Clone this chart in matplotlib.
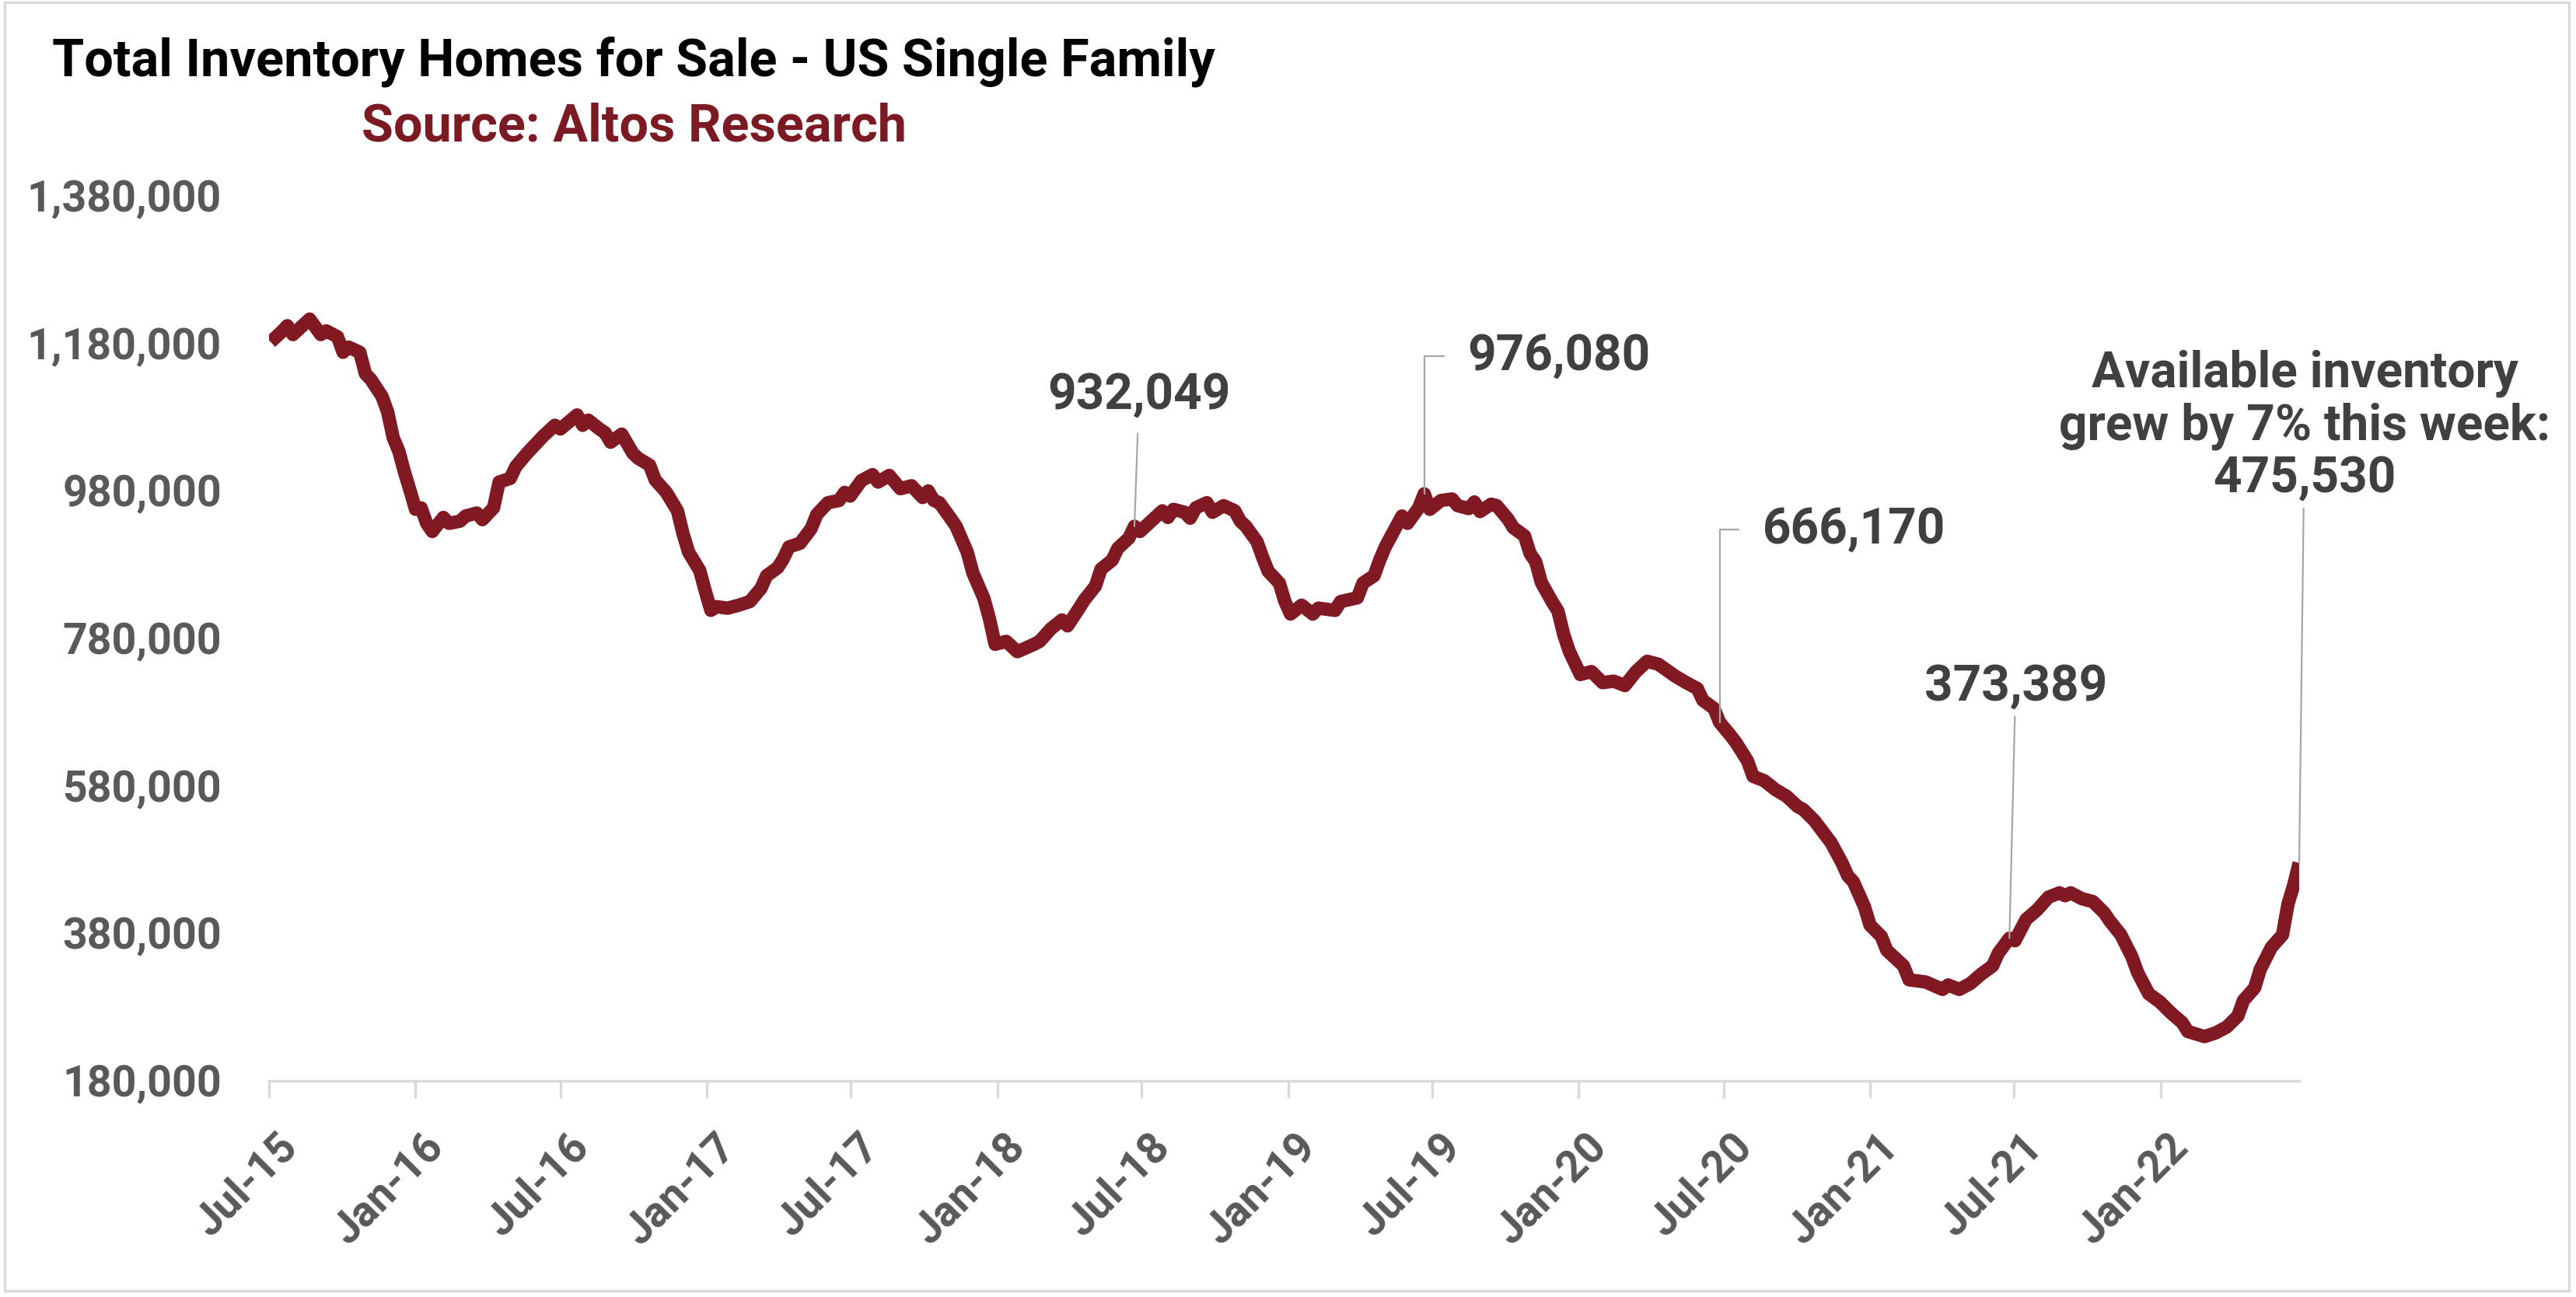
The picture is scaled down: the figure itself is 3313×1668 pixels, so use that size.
import matplotlib
matplotlib.use("Agg")
import matplotlib.pyplot as plt
import matplotlib.transforms as mtransforms
from matplotlib.patches import Rectangle
from matplotlib.ticker import FuncFormatter
import pandas as pd
import numpy as np

# ---------------- data ----------------
start_date = "2015-07-03"   # first weekly observation
week = [0, 2, 3, 4, 5, 7, 9, 10, 12, 13, 14, 16, 17, 18, 20, 21, 22, 23, 24, 25, 26, 27, 28, 29, 31, 32,
        34, 35, 37, 38, 40, 41, 43, 44, 46, 47, 49, 51, 52, 55, 56, 57, 59, 60, 61, 63, 65, 66, 68, 69,
        71, 73, 74, 75, 77, 78, 79, 80, 82, 84, 86, 88, 89, 91, 92, 93, 95, 97, 98, 100, 102, 103, 104,
        106, 108, 109, 111, 113, 115, 117, 118, 119, 120, 122, 123, 125, 126, 128, 129, 130, 132, 134,
        137, 138, 140, 142, 143, 145, 146, 148, 149, 151, 152, 154, 155, 156, 158, 160, 161, 162, 164,
        165, 166, 168, 169, 171, 173, 174, 175, 177, 178, 179, 181, 182, 183, 185, 187, 188, 191, 192,
        195, 196, 198, 199, 200, 202, 203, 204, 206, 207, 208, 210, 212, 213, 215, 216, 217, 219, 220,
        222, 223, 225, 226, 227, 228, 230, 231, 232, 233, 235, 237, 239, 241, 243, 245, 247, 249, 252,
        254, 256, 257, 259, 260, 262, 263, 265, 266, 268, 270, 272, 274, 275, 277, 278, 280, 282, 283,
        284, 286, 287, 289, 290, 293, 294, 297, 300, 301, 303, 305, 307, 309, 310, 312, 313, 315, 317,
        319, 321, 322, 323, 325, 327, 329, 330, 332, 334, 335, 337, 339, 341, 343, 344, 347, 349, 351,
        353, 354, 356, 357, 359, 361, 362, 363, 364]
inventory = [1182000, 1196000, 1204000, 1192000, 1199000, 1213000, 1192000, 1197000, 1189000, 1168000,
             1175000, 1168000, 1139000, 1131000, 1108000, 1087000, 1052000, 1034000, 1006000, 981000,
             955000, 957000, 936000, 925000, 944000, 936000, 939000, 946000, 950000, 941000, 957000,
             992000, 997000, 1013000, 1031000, 1039000, 1055000, 1069000, 1064000, 1083000, 1069000,
             1076000, 1064000, 1059000, 1046000, 1057000, 1031000, 1024000, 1015000, 995000, 978000,
             953000, 922000, 897000, 872000, 844000, 818000, 823000, 821000, 825000, 830000, 848000,
             865000, 876000, 888000, 904000, 909000, 929000, 948000, 964000, 967000, 978000, 973000,
             994000, 1002000, 992000, 1001000, 983000, 987000, 971000, 980000, 967000, 964000, 943000,
             932000, 897000, 869000, 834000, 806000, 772000, 776000, 762000, 772000, 776000, 793000,
             805000, 797000, 820000, 832000, 851000, 874000, 886000, 902000, 916000, 932049, 925000,
             939000, 953000, 944000, 955000, 951000, 943000, 957000, 964000, 951000, 960000, 953000,
             939000, 932000, 911000, 890000, 871000, 855000, 830000, 813000, 825000, 813000, 821000,
             818000, 830000, 835000, 855000, 865000, 886000, 904000, 932000, 946000, 936000, 957000,
             976080, 955000, 967000, 969000, 960000, 956000, 965000, 952000, 962000, 960000, 942000,
             930000, 919000, 895000, 884000, 856000, 829000, 817000, 786000, 763000, 731000, 735000,
             720000, 722000, 716000, 735000, 749000, 745000, 729000, 720000, 712000, 696000, 685000,
             666170, 648000, 638000, 614000, 593000, 587000, 575000, 566000, 552000, 548000, 533000,
             523000, 503000, 475000, 458000, 450000, 416000, 391000, 376000, 357000, 336000, 317000,
             314000, 304000, 310000, 304000, 312000, 325000, 336000, 353000, 373389, 370000, 399000,
             412000, 429000, 435000, 431000, 435000, 427000, 423000, 408000, 397000, 378000, 348000,
             327000, 298000, 287000, 272000, 259000, 247000, 240000, 245000, 253000, 268000, 289000,
             306000, 331000, 361000, 378000, 420000, 445000, 475530]

x_tick_dates = ["2015-07-01", "2016-01-01", "2016-07-01", "2017-01-01", "2017-07-01", "2018-01-01",
                "2018-07-01", "2019-01-01", "2019-07-01", "2020-01-01", "2020-07-01", "2021-01-01",
                "2021-07-01", "2022-01-01"]
x_tick_labels = ["Jul-15", "Jan-16", "Jul-16", "Jan-17", "Jul-17", "Jan-18", "Jul-18", "Jan-19",
                 "Jul-19", "Jan-20", "Jul-20", "Jan-21", "Jul-21", "Jan-22"]
y_ticks = [180000, 380000, 580000, 780000, 980000, 1180000, 1380000]

title = "Total Inventory Homes for Sale - US Single Family"
subtitle = "Source: Altos Research"

# annotations: (week, label text)
ann_weeks = [155, 207, 260, 312, 364]
ann_texts = ["932,049", "976,080", "666,170", "373,389",
             "Available inventory\ngrew by 7% this week:\n475,530"]

# ---------------- figure ----------------
DPI = 200
fig = plt.figure(figsize=(3313 / DPI, 1668 / DPI), dpi=DPI)
fig.patch.set_facecolor("white")

LINE = "#811922"
GREY_TXT = "#595959"
ANN_TXT = "#404040"
AXIS_GREY = "#D9D9D9"
LEADER = "#A6A6A6"

base_font = ["Roboto", "DejaVu Sans"]
title_font = ["Liberation Sans Narrow", "Roboto", "DejaVu Sans"]

ax = fig.add_axes([346 / 3313, 1 - 1390 / 1668, (2957 - 346) / 3313, (1390 - 252) / 1668])

dates = pd.Timestamp(start_date) + pd.to_timedelta(np.array(week) * 7, unit="D")
ax.plot(dates, inventory, color=LINE, lw=6.2, solid_joinstyle="round", solid_capstyle="butt", zorder=3)

ax.set_xlim(pd.Timestamp(x_tick_dates[0]), dates[-1])
ax.set_ylim(y_ticks[0], y_ticks[-1])

for s in ["top", "right", "left"]:
    ax.spines[s].set_visible(False)
ax.spines["bottom"].set_color(AXIS_GREY)
ax.spines["bottom"].set_linewidth(1.2)

ax.set_yticks(y_ticks)
ax.yaxis.set_major_formatter(FuncFormatter(lambda v, p: f"{int(v):,}"))
ax.tick_params(axis="y", length=0, pad=22, labelsize=20, labelcolor=GREY_TXT)
for lab in ax.get_yticklabels():
    lab.set_family(base_font)
    lab.set_fontweight("bold")

ax.set_xticks(pd.to_datetime(x_tick_dates))
ax.set_xticklabels(x_tick_labels)
ax.tick_params(axis="x", length=8, width=1.2, color=AXIS_GREY, direction="out", pad=13,
               labelsize=20, labelcolor=GREY_TXT)
shift = mtransforms.ScaledTranslation(10 / DPI, 0, fig.dpi_scale_trans)
for lab in ax.get_xticklabels():
    lab.set_family(base_font)
    lab.set_fontweight("bold")
    lab.set_rotation(45)
    lab.set_ha("right")
    lab.set_va("top")
    lab.set_rotation_mode("anchor")
    lab.set_transform(lab.get_transform() + shift)

# ---------------- annotations ----------------
px = 72 / DPI  # pixel -> points
ann_val = dict(zip(week, inventory))
specs = [
    # offset (px), ha, connection, relpos, shrinkA
    ((6, 169), "center", "arc3", (0.5, 0.5), 5),
    ((56, 177), "left", "angle,angleA=0,angleB=90,rad=0", (0.0, 0.5), 9),
    ((55, 248), "left", "angle,angleA=0,angleB=90,rad=0", (0.0, 0.5), 9),
    ((8, 324), "center", "arc3", (0.5, 0.5), 1),
    ((7, 562), "center", "arc3", (0.5, 0.5), 1),
]
for wk, txt, (off, ha, conn, relpos, shA) in zip(ann_weeks, ann_texts, specs):
    d = pd.Timestamp(start_date) + pd.Timedelta(days=7 * wk)
    ax.annotate(txt, xy=(d, ann_val[wk]), xytext=(off[0] * px, off[1] * px),
                textcoords="offset points", ha=ha, va="center", multialignment="center",
                fontsize=23, fontweight="bold", color=ANN_TXT, family=base_font,
                linespacing=1.12, annotation_clip=False, zorder=4,
                arrowprops=dict(arrowstyle="-", color=LEADER, lw=0.8, shrinkA=shA, shrinkB=0,
                                connectionstyle=conn, relpos=relpos))

# ---------------- titles ----------------
fig.text(815 / 3313, 1 - 98 / 1668, title, ha="center", va="baseline", fontsize=24,
         fontweight="bold", color="black", family=title_font)
fig.text(815 / 3313, 1 - 182 / 1668, subtitle, ha="center", va="baseline", fontsize=24,
         fontweight="bold", color="#7B1A22", family=title_font)

# chart-area border
fig.patches.append(Rectangle((6 / 3313, 1 - 1660 / 1668), (3304 - 6) / 3313, (1660 - 3) / 1668,
                             transform=fig.transFigure, fill=False, edgecolor=AXIS_GREY, lw=1.2))

fig.savefig("out.png", dpi=DPI, facecolor="white")
